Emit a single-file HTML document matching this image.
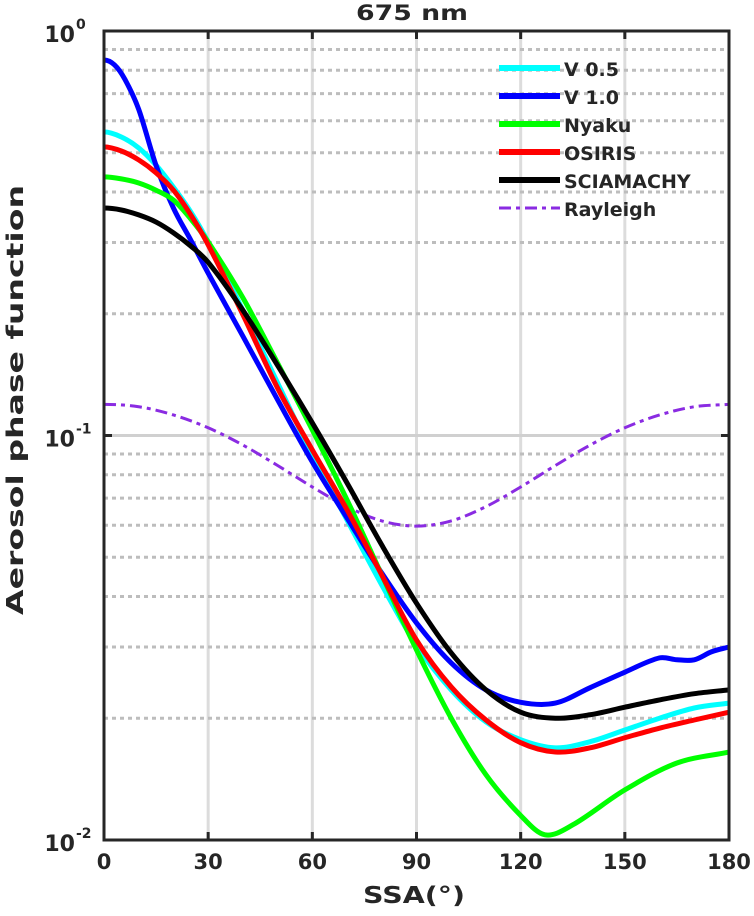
<!DOCTYPE html>
<html><head><meta charset="utf-8"><style>
body{margin:0;background:#fff}
svg text{font-family:"DejaVu Sans","Liberation Sans",sans-serif;font-weight:bold;fill:#262626}
</style></head><body>
<svg id="chart" width="754" height="911" xmlns="http://www.w3.org/2000/svg">
<rect width="754" height="911" fill="#fff"/>
<g id="grid"></g>
<g id="series"></g>
<rect x="104" y="31" width="625" height="809" fill="none" stroke="#262626" stroke-width="3"/>
<g id="ticks"></g>
<text x="412" y="20" font-size="21" text-anchor="middle" textLength="112" lengthAdjust="spacingAndGlyphs">675 nm</text>
<text x="414" y="903" font-size="23" text-anchor="middle" textLength="102" lengthAdjust="spacingAndGlyphs">SSA(°)</text>
<text transform="translate(23,400) rotate(-90)" font-size="23" text-anchor="middle" textLength="430" lengthAdjust="spacingAndGlyphs">Aerosol phase function</text>
<g id="legend"></g>
</svg>
<script>
const angV05=[0,5,10,15,20,25,30,40,50,60,70,80,90,100,110,120,130,140,150,160,170,180];
const valV05=[.563,.547,.514,.466,.411,.357,.301,.204,.1349,.0895,.0618,.0427,.0303,.0235,.0196,.0177,.0169,.0175,.0187,.0200,.0212,.0218];
const angV10=[0,3,6,10,15,20,25,30,40,50,60,70,80,90,100,110,120,130,140,150,160,165,170,175,180];
const valV10=[.848,.825,.760,.640,.465,.365,.304,.252,.176,.1225,.0860,.0625,.0457,.0344,.0274,.0235,.0219,.0218,.0238,.0260,.0282,.0279,.0279,.0292,.0300];
const angNyaku=[0,5,10,15,20,25,30,40,50,60,70,80,90,100,110,120,127,135,150,165,180];
const valNyaku=[.436,.431,.421,.404,.382,.343,.301,.219,.151,.1032,.0693,.0452,.0295,.0200,.0145,.0115,.0103,.0109,.0133,.0155,.0165];
const angOsiris=[0,5,10,15,20,25,30,40,50,60,70,80,90,100,110,120,130,140,150,160,170,180];
const valOsiris=[.517,.505,.480,.446,.404,.351,.296,.199,.131,.0921,.0655,.0452,.0312,.0239,.0198,.0174,.0165,.0169,.0179,.0189,.0198,.0207];
const angScia=[0,5,10,15,20,25,30,40,50,60,70,80,90,100,110,120,130,140,150,160,170,180];
const valScia=[.365,.361,.351,.337,.317,.294,.268,.204,.149,.1074,.0763,.0536,.0385,.0290,.0235,.0207,.0200,.0204,.0213,.0222,.0230,.0235];
const angRay=[0,10,20,30,40,50,60,70,80,90,100,110,120,130,140,150,160,170,180];
const valRay=[.1194,.1178,.1124,.1045,.0947,.0843,.0746,.0667,.0615,.0597,.0615,.0667,.0746,.0843,.0947,.1045,.1124,.1178,.1194];
const xTicks=[0,30,60,90,120,150,180];
const yDecades=[0,-1,-2];
const seriesNames=["V 0.5","V 1.0","Nyaku","OSIRIS","SCIAMACHY","Rayleigh"];
const seriesColors=["#00ffff","#0000ff","#00ff00","#ff0000","#000000","#8a2be2"];

const NS="http://www.w3.org/2000/svg";
const X0=104,X1=729,YT=31,DEC=404.5;
const xs=a=>X0+(a/180)*(X1-X0);
const ys=v=>YT-Math.log10(v)*DEC;
function mk(tag,attrs,parent){const e=document.createElementNS(NS,tag);for(const k in attrs)e.setAttribute(k,attrs[k]);parent.appendChild(e);return e;}
const grid=document.getElementById('grid'),ticks=document.getElementById('ticks'),ser=document.getElementById('series'),leg=document.getElementById('legend');

xTicks.forEach(t=>{
  if(t>0&&t<180){const l=mk('line',{x1:xs(t),x2:xs(t),y1:YT,y2:840,stroke:'#dcdcdc','stroke-width':3},grid);
  
  }
  const tk=mk('path',{d:`M${xs(t)},840v-8M${xs(t)},31v8`,stroke:'#262626','stroke-width':3},ticks);
  
  
  const tx=mk('text',{x:xs(t),y:869,'font-size':21,'text-anchor':'middle'},ticks);tx.textContent=t;
  
  
});
for(let d=-2;d<0;d++){for(let m=2;m<=9;m++){const v=m*Math.pow(10,d);
  const l=mk('line',{x1:X0,x2:X1,y1:ys(v),y2:ys(v),stroke:'#bdbdbd','stroke-width':3,'stroke-dasharray':'4,4'},grid);
  
  }}
const g1=mk('line',{x1:X0,x2:X1,y1:ys(0.1),y2:ys(0.1),stroke:'#d0d0d0','stroke-width':3},grid);


yDecades.forEach(d=>{const y=ys(Math.pow(10,d));
  const tx=mk('text',{x:75,y:y+11,'font-size':22,'text-anchor':'end'},ticks);tx.textContent='10';
  
  
  const sp=mk('text',{x:76,y:y-2,'font-size':14},ticks);sp.textContent=String(d);
  
  
  const tk=mk('path',{d:`M104,${y}h8M729,${y}h-8`,stroke:'#262626','stroke-width':3},ticks);
  
  
});
function path(angs,vals){
  const X=angs.map(xs),Y=vals.map(ys),n=X.length;
  const m=X.map((x,i)=>{if(i==0)return 0;const a=i-1,b=Math.min(n-1,i+1);return (Y[b]-Y[a])/(X[b]-X[a]);});
  let d=`M${X[0]},${Y[0]}`;
  for(let i=0;i<n-1;i++){const h=(X[i+1]-X[i])/3;
    d+=`C${X[i]+h},${Y[i]+m[i]*h} ${X[i+1]-h},${Y[i+1]-m[i+1]*h} ${X[i+1]},${Y[i+1]}`;}
  return d;}
const all=[[angV05,valV05],[angV10,valV10],[angNyaku,valNyaku],[angOsiris,valOsiris],[angScia,valScia],[angRay,valRay]];
const order=[5,0,1,2,3,4];
const keys=["v05","v10","nyaku","osiris","sciamachy","rayleigh"];
order.forEach(i=>{const s=all[i];
  const attrs={d:path(s[0],s[1]),fill:'none',stroke:seriesColors[i],'stroke-width':i==5?3:5,'stroke-linejoin':'round'};
  if(i==5)attrs['stroke-dasharray']='12,5,4,5';
  const e=mk('path',attrs,ser);
  
  
});
seriesNames.forEach((n,i)=>{const y=68+i*28;
  const attrs={x1:499,x2:560,y1:y,y2:y,stroke:seriesColors[i],'stroke-width':i==5?3:6};
  if(i==5)attrs['stroke-dasharray']='12,5,4,5';
  const l=mk('line',attrs,leg);
  
  
  const t=mk('text',{x:564,y:y+8,'font-size':19},leg);t.textContent=n;
  
  
});
</script>
</body></html>
